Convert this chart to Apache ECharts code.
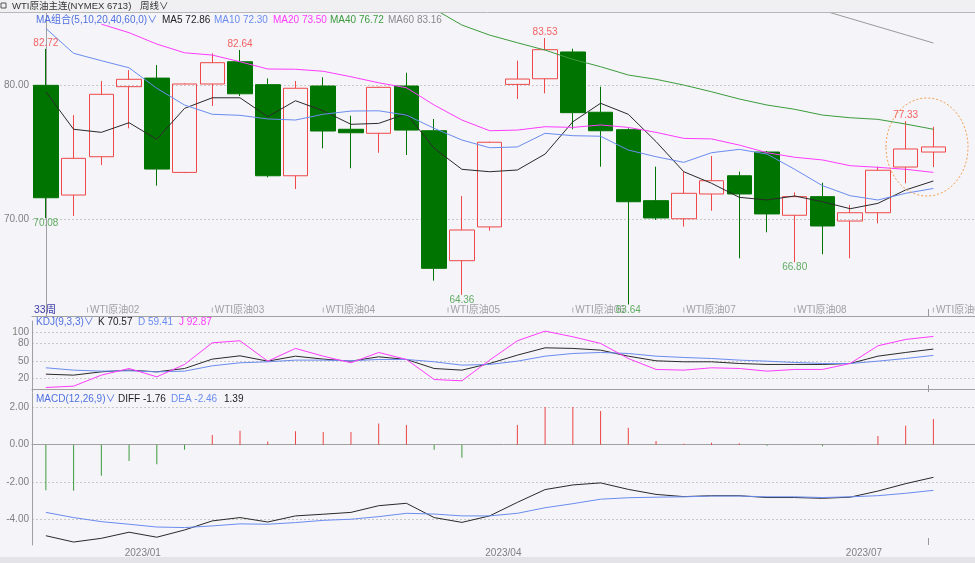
<!DOCTYPE html>
<html><head><meta charset="utf-8">
<script src="https://cdn.jsdelivr.net/npm/echarts@6/dist/echarts.min.js"></script>
<style>html,body{margin:0;padding:0;background:#f4f4f9}#c{width:975px;height:563px}</style>
</head><body><div id="c"></div><script>
const weeks = ['2022/12/05','2022/12/12','2022/12/19','2022/12/26','2023/01/02','2023/01/09','2023/01/16','2023/01/23','2023/01/30','2023/02/06','2023/02/13','2023/02/20','2023/02/27','2023/03/06','2023/03/13','2023/03/20','2023/03/27','2023/04/03','2023/04/10','2023/04/17','2023/04/24','2023/05/01','2023/05/08','2023/05/15','2023/05/22','2023/05/29','2023/06/05','2023/06/12','2023/06/19','2023/06/26','2023/07/03','2023/07/10','2023/07/17'];
const opens  = [80.00,71.81,74.67,79.90,80.54,73.50,80.10,81.76,80.05,73.25,79.95,76.72,76.42,79.95,76.61,66.91,69.43,80.07,80.49,82.49,77.99,76.69,71.39,70.04,71.89,73.25,75.02,70.30,71.69,69.87,70.49,73.90,75.02];
const closes = [71.61,74.55,79.33,80.45,73.75,80.10,81.69,79.37,73.25,79.78,76.59,76.46,79.85,76.66,66.34,69.20,75.75,80.47,82.66,77.96,76.61,71.31,70.10,71.94,72.88,71.89,70.40,71.69,69.50,70.49,73.66,75.25,75.40];
const lows   = [70.08,70.25,74.05,76.79,72.51,73.45,78.46,79.20,73.13,72.26,75.30,73.81,74.97,74.80,65.42,64.36,69.15,78.98,79.40,76.72,73.93,63.64,69.95,69.45,70.64,67.09,69.03,66.80,67.39,67.09,69.70,72.69,73.90];
const highs  = [82.72,77.78,80.32,81.14,81.51,80.15,82.39,82.64,80.52,80.32,80.60,77.73,79.90,80.94,77.49,71.74,75.80,81.84,83.53,82.73,79.90,76.80,73.93,73.55,74.72,73.55,75.10,72.01,72.73,71.07,73.93,77.33,76.91];
const ma5  = [79.52,76.72,76.49,77.21,75.97,78.28,79.07,79.07,77.66,78.85,78.10,77.09,77.16,77.88,75.30,73.73,73.55,73.68,74.87,77.28,78.66,77.84,75.80,73.55,72.69,71.64,71.44,71.74,71.31,70.79,71.19,72.19,72.86];
const ma10 = [84.25,82.39,81.84,81.31,79.78,78.53,77.84,77.76,77.49,77.41,77.84,78.08,78.10,77.78,76.79,75.92,75.34,75.40,76.42,76.24,76.20,75.17,74.67,74.25,74.97,75.22,74.87,73.73,72.51,71.76,71.44,71.94,72.30];
const ma20 = [null,null,84.57,83.93,83.08,82.43,82.26,81.76,81.22,81.20,81.05,80.64,80.19,79.82,78.53,77.41,76.61,76.66,76.91,76.86,77.04,76.86,76.49,76.04,76.00,75.54,74.97,74.63,74.43,74.00,73.88,73.73,73.50];
const ma40 = [null,null,null,null,null,null,null,null,null,null,null,null,null,null,85.70,84.50,83.75,83.18,82.63,81.94,81.39,80.77,80.45,80.02,79.52,78.98,78.53,78.21,77.78,77.58,77.46,77.11,76.72];
const ma60 = [null,null,null,null,null,null,null,null,null,null,null,null,null,null,null,null,null,null,null,null,null,null,null,null,null,null,null,null,85.60,84.99,84.38,83.77,83.16];
const kdjK = [26.4,24.7,30.5,33.5,30.5,36.4,52.9,58.7,49.3,58.1,52.9,49.3,57.0,52.3,36.4,33.5,45.2,59.9,72.8,71.7,68.7,58.1,49.9,48.2,48.2,45.2,43.5,43.5,43.5,45.2,58.1,64.6,70.57];
const kdjD = [37.6,33.5,31.7,32.3,30.5,31.7,41.1,46.4,48.2,51.1,51.1,49.9,52.3,52.3,48.2,42.3,43.5,49.3,58.1,62.8,64.6,62.8,58.1,55.8,54.0,51.1,49.3,47.0,45.2,45.2,49.3,54.0,59.41];
const kdjJ = [2.9,5.3,24.7,36.4,21.7,43.5,81.6,85.2,49.3,71.7,58.1,46.4,64.6,52.3,17.0,14.7,51.1,85.2,102.2,92.2,80.5,54.0,34.7,33.5,37.6,36.4,31.7,34.7,34.7,45.2,76.4,87.5,92.87];
const macdHist = [-2.46,-2.49,-1.67,-0.88,-1.06,-0.27,0.52,0.75,0.18,0.72,0.68,0.68,1.15,1.06,-0.27,-0.70,-0.02,1.06,2.03,2.03,1.82,0.92,0.20,0.05,0.11,0.08,-0.05,0.01,-0.08,0.01,0.47,1.02,1.39];
const macdDiff = [-4.91,-5.25,-5.05,-4.72,-4.99,-4.60,-4.11,-3.93,-4.17,-3.84,-3.75,-3.65,-3.29,-3.16,-3.93,-4.19,-3.84,-3.11,-2.42,-2.17,-2.06,-2.41,-2.68,-2.80,-2.75,-2.75,-2.85,-2.85,-2.89,-2.83,-2.50,-2.10,-1.76];
const macdDea  = [-3.65,-3.93,-4.15,-4.29,-4.44,-4.47,-4.38,-4.27,-4.29,-4.20,-4.08,-4.02,-3.88,-3.70,-3.74,-3.84,-3.84,-3.70,-3.40,-3.18,-2.94,-2.86,-2.83,-2.81,-2.77,-2.77,-2.81,-2.81,-2.85,-2.81,-2.75,-2.62,-2.46];
const highMarkIdx = [0,7,18,31];
const lowMarkIdx  = [0,15,21,27];
const contractNames = ['WTI原油02','WTI原油03','WTI原油04','WTI原油05','WTI原油06','WTI原油07','WTI原油08','WTI原油09'];
const contractPos   = [1.5,6,10,14.5,19,23,27,32];
const priceTicks = [70,80];
const kdjTicks = [20,50,80,100];
const macdTicks = [-4,-2,0,2];

const FONT = "'Liberation Sans','Noto Sans CJK SC',sans-serif";
const BG = '#f4f4f9';
const GL = 32, BW = 28, N = weeks.length;
const cats = weeks.concat(['']);
const AX = '#a0a0a0';
const C = {k:'#2a2a2a', blue:'#6b8cef', mag:'#ff3cff', green:'#3d9b3d', gray:'#9a9a9a', red:'#f04848', dgreen:'#007400'};

const chart = echarts.init(document.getElementById('c'), null, {renderer:'canvas'});

function catAxis(gi, withLabels) {
  return {
    type:'category', gridIndex:gi, data:cats, boundaryGap:true,
    axisLine:{show:true, lineStyle:{color:AX, width:1}},
    axisTick:{show:false},
    splitLine:{show:false},
    axisLabel: withLabels ? {
      show:true, margin:3, fontSize:10, fontFamily:FONT, color:'#808080',
      interval:function(i, v){ if(!v || i===0) return false; const m=+v.slice(5,7), pm=+cats[i-1].slice(5,7); return m!==pm && (m-1)%3===0; },
      formatter:function(v){ return '{a|'+v.slice(0,7)+'}'; },
      rich:{a:{padding:[0,28,0,0], fontSize:10, fontFamily:FONT, color:'#808080'}}
    } : {show:false}
  };
}
function valAxis(gi, min, max, ticks, fmt) {
  return {
    type:'value', gridIndex:gi, min:min, max:max, scale:true,
    axisLine:{show:true, lineStyle:{color:AX, width:1}},
    axisTick:{show:false, customValues:ticks},
    axisLabel:{show:true, customValues:ticks, margin:3, fontSize:10, fontFamily:FONT, color:'#808080', formatter:fmt},
    splitLine:{show:true, lineStyle:{color:'#c8c8c8', type:[2,2], width:1}}
  };
}
function line(data, color, xi, yi) {
  return {type:'line', data:data, xAxisIndex:xi, yAxisIndex:yi, symbol:'none', showSymbol:false, clip:true,
    lineStyle:{width:1, color:color}, itemStyle:{color:color}, silent:true, z:3};
}

const hdr = (x, y, t, color, fs) => ({type:'text', x:x, y:y, z:100, style:{text:t, fill:color, font:(fs||10)+'px '+FONT, textVerticalAlign:'middle'}});
const f2 = v => v.toFixed(2);
const markX = GL + BW*(N-1);

chart.setOption({
  backgroundColor: BG,
  animation:false,
  grid:[
    {left:GL, top:13, width:BW*(N+1), height:303},
    {left:GL, top:321, width:BW*(N+1), height:71},
    {left:GL, top:393, width:BW*(N+1), height:152}
  ],
  xAxis:[
    catAxis(0,false), catAxis(1,false), catAxis(2,true),
    {type:'value', gridIndex:0, min:-0.5, max:N+0.5, show:false}
  ],
  yAxis:[
    valAxis(0, 62.78, 85.40, priceTicks, v=>v.toFixed(2)),
    valAxis(1, -5, 120, kdjTicks, v=>String(v)),
    valAxis(2, -5.41, 2.79, macdTicks, v=>v.toFixed(2)),
    {type:'value', gridIndex:0, min:0, max:1, show:false}
  ],
  series:[
    {type:'candlestick', xAxisIndex:0, yAxisIndex:0, barWidth:25, silent:true, z:2,
      data: opens.map((o,i)=>[o, closes[i], lows[i], highs[i]]),
      itemStyle:{color:'transparent', color0:C.dgreen, borderColor:C.red, borderColor0:C.dgreen, borderWidth:1}},
    line(ma5, C.k, 0, 0), line(ma10, C.blue, 0, 0), line(ma20, C.mag, 0, 0), line(ma40, C.green, 0, 0), line(ma60, C.gray, 0, 0),
    {type:'scatter', xAxisIndex:0, yAxisIndex:0, symbolSize:1, itemStyle:{color:'transparent'}, silent:true, z:5,
      data: highMarkIdx.map(i=>[i, highs[i]]),
      label:{show:true, position:'top', distance:0, formatter:p=>f2(p.value[1]), color:'#f03c3c', fontSize:10, fontFamily:FONT}},
    {type:'scatter', xAxisIndex:0, yAxisIndex:0, symbolSize:1, itemStyle:{color:'transparent'}, silent:true, z:5,
      data: lowMarkIdx.map(i=>[i, lows[i]]),
      label:{show:true, position:'bottom', distance:0, formatter:p=>f2(p.value[1]), color:'#3c9a3c', fontSize:10, fontFamily:FONT}},
    {type:'scatter', xAxisIndex:3, yAxisIndex:3, symbol:'rect', symbolSize:[1,5], itemStyle:{color:'#a0a0a0'}, silent:true, z:4,
      data: contractPos.map((p,i)=>[p, 0.02, contractNames[i]]),
      label:{show:true, position:'right', distance:2, formatter:p=>p.data[2], color:'#8c8c8c', fontSize:10, fontFamily:FONT}},
    line(kdjK, C.k, 1, 1), line(kdjD, C.blue, 1, 1), line(kdjJ, C.mag, 1, 1),
    {type:'bar', xAxisIndex:2, yAxisIndex:2, barWidth:1, silent:true, data:macdHist,
      itemStyle:{color:p=> p.value>=0 ? '#ee4444' : '#3d9b3d'}},
    line(macdDiff, C.k, 2, 2), line(macdDea, C.blue, 2, 2)
  ],
  graphic:[
    {type:'rect', z:90, shape:{x:0,y:0,width:975,height:12}, style:{fill:'#f0f0f3'}},
    {type:'line', z:91, shape:{x1:0,y1:12.5,x2:975,y2:12.5}, style:{stroke:'#b8b8b8', lineWidth:1}},
    {type:'rect', z:91, shape:{x:1,y:3,width:5,height:5}, style:{fill:'none', stroke:'#555', lineWidth:1}},
    hdr(12, 6, 'WTI原油主连(NYMEX 6713)', '#333', 9.5),
    hdr(140, 6, '周线∨', '#333', 9.5),
    hdr(36, 20, 'MA组合(5,10,20,40,60,0)∨', '#4f70e0'),
    hdr(162, 20, 'MA5 '+f2(ma5[N-1]), '#222'),
    hdr(214, 20, 'MA10 '+f2(ma10[N-1]), C.blue),
    hdr(273, 20, 'MA20 '+f2(ma20[N-1]), C.mag),
    hdr(330, 20, 'MA40 '+f2(ma40[N-1]), C.green),
    hdr(388, 20, 'MA60 '+f2(ma60[N-1]), '#8a8a8a'),
    hdr(34, 310, '33周', '#4040a8', 10.5),
    hdr(36, 322, 'KDJ(9,3,3)∨', '#4f70e0'),
    hdr(98, 322, 'K '+f2(kdjK[N-1]), '#222'),
    hdr(138, 322, 'D '+f2(kdjD[N-1]), C.blue),
    hdr(179, 322, 'J '+f2(kdjJ[N-1]), C.mag),
    hdr(36, 399, 'MACD(12,26,9)∨', '#4f70e0'),
    hdr(118, 399, 'DIFF '+f2(macdDiff[N-1]), '#222'),
    hdr(171, 399, 'DEA '+f2(macdDea[N-1]), C.blue),
    hdr(224, 399, f2(macdHist[N-1]), '#222'),
    {type:'ellipse', z:95, shape:{cx:927, cy:147, rx:41, ry:49}, style:{fill:'none', stroke:'#f5a050', lineWidth:1, lineDash:[2,2]}},
    {type:'line', z:95, shape:{x1:markX+0.5,y1:309,x2:markX+0.5,y2:316}, style:{stroke:'#999', lineWidth:1}},
    {type:'line', z:95, shape:{x1:markX+0.5,y1:385,x2:markX+0.5,y2:392}, style:{stroke:'#999', lineWidth:1}},
    {type:'line', z:95, shape:{x1:markX+0.5,y1:538,x2:markX+0.5,y2:545}, style:{stroke:'#999', lineWidth:1}},
    {type:'rect', z:90, shape:{x:0,y:557,width:975,height:6}, style:{fill:'#e4e4e8'}}
  ]
});
</script></body></html>
